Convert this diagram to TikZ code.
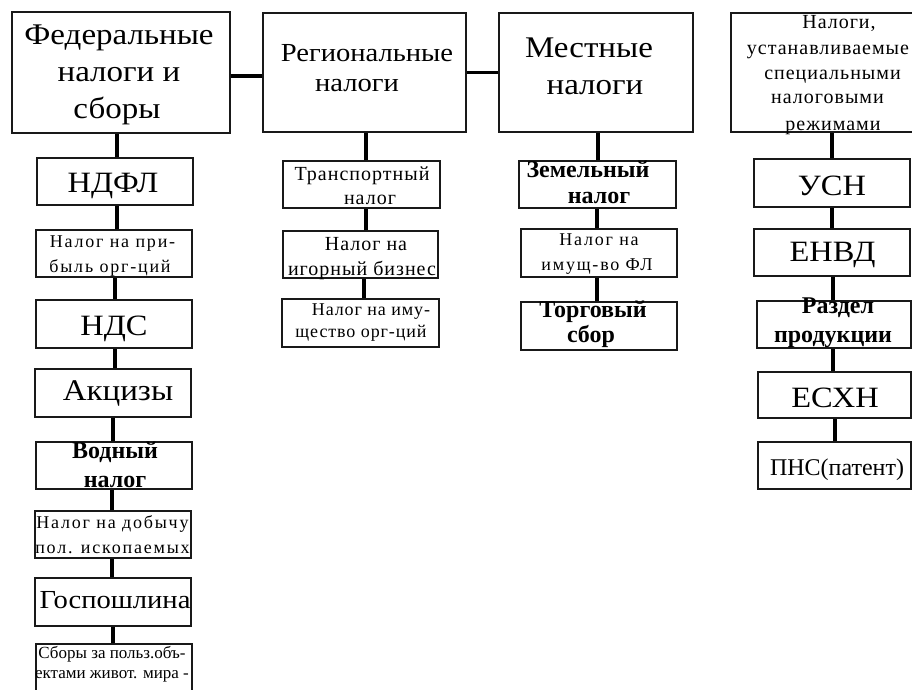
\documentclass[tikz,border=0pt]{standalone}
\usepackage{fontspec}
\setmainfont{Liberation Serif}
\newfontfamily\spacedfam[LetterSpace=10]{Liberation Serif}
\newfontfamily\spacedlight[LetterSpace=5]{Liberation Serif}
\newfontfamily\widefam[FakeStretch=1.1]{Liberation Serif}
\usetikzlibrary{fit}
\newcommand\fbg[1]{\widefam\fontsize{#1}{#1}\selectfont}
\newcommand\fsm[1]{\spacedfam\fontsize{#1}{#1}\selectfont}
\newcommand\fsl[1]{\spacedlight\fontsize{#1}{#1}\selectfont}
\newcommand\fbd{\bfseries\fontsize{24}{24}\selectfont}
\newcommand\fpl[1]{\fontsize{#1}{#1}\selectfont}
\begin{document}
\begin{tikzpicture}[x=1pt,y=-1pt,
  box/.style={draw=black!90, line width=1.2pt, inner sep=0pt, rectangle},
  link/.style={line width=3.6pt, draw=black},
  txt/.style={anchor=base, inner sep=0pt, text=black}]
\useasboundingbox (0,0) rectangle (912,690);
\clip (0,0) rectangle (912,690);
% ---------- boxes ----------
\node[box, fit={(12,12) (230,133)}] (fed) {};
\node[box, fit={(263,13) (466,132)}] (reg) {};
\node[box, fit={(499,13) (693,132)}] (mes) {};
\node[box, fit={(731,13) (934,132)}] (spec) {};
\node[box, fit={(37,158) (193,205)}] (ndfl) {};
\node[box, fit={(36,230) (192,277)}] (prib) {};
\node[box, fit={(36,300) (192,348)}] (nds) {};
\node[box, fit={(35,369) (191,417)}] (akc) {};
\node[box, fit={(36,442) (192,489)}] (vod) {};
\node[box, fit={(35,511) (191,558)}] (dob) {};
\node[box, fit={(35,578) (191,626)}] (gos) {};
\node[box, fit={(36,644) (192,720)}] (sbo) {};
\node[box, fit={(283,161) (440,208)}] (tra) {};
\node[box, fit={(283,231) (438,278)}] (igo) {};
\node[box, fit={(282,299) (439,347)}] (imu) {};
\node[box, fit={(519,161) (676,208)}] (zem) {};
\node[box, fit={(521,229) (677,277)}] (ifl) {};
\node[box, fit={(521,302) (677,350)}] (tor) {};
\node[box, fit={(754,159) (910,207)}] (usn) {};
\node[box, fit={(754,229) (910,276)}] (envd) {};
\node[box, fit={(757,301) (911,348)}] (raz) {};
\node[box, fit={(758,372) (911,418)}] (esx) {};
\node[box, fit={(758,442) (911,489)}] (pns) {};
% ---------- connectors ----------
\draw[link] ([yshift=-3.5pt]fed.east) -- ([yshift=-3.5pt]fed.east -| reg.west);
\draw[link] (reg.east) -- (reg.east -| mes.west);
\draw[link] ([xshift=2pt]ndfl.north) -- ([xshift=2pt]ndfl.north |- fed.south);
\draw[link] ([xshift=3pt]prib.north) -- ([xshift=3pt]prib.north |- ndfl.south);
\draw[link] ([xshift=1pt]nds.north) -- ([xshift=1pt]nds.north |- prib.south);
\draw[link] ([xshift=2pt]akc.north) -- ([xshift=2pt]akc.north |- nds.south);
\draw[link] ([xshift=-1pt]vod.north) -- ([xshift=-1pt]vod.north |- akc.south);
\draw[link] ([xshift=-1pt]dob.north) -- ([xshift=-1pt]dob.north |- vod.south);
\draw[link] ([xshift=-1pt]gos.north) -- ([xshift=-1pt]gos.north |- dob.south);
\draw[link] ([xshift=-1pt]sbo.north) -- ([xshift=-1pt]sbo.north |- gos.south);
\draw[link] ([xshift=4.5pt]tra.north) -- ([xshift=4.5pt]tra.north |- reg.south);
\draw[link] ([xshift=5.5pt]igo.north) -- ([xshift=5.5pt]igo.north |- tra.south);
\draw[link] ([xshift=3.5pt]imu.north) -- ([xshift=3.5pt]imu.north |- igo.south);
\draw[link] ([xshift=0.5pt]zem.north) -- ([xshift=0.5pt]zem.north |- mes.south);
\draw[link] ([xshift=-2pt]ifl.north) -- ([xshift=-2pt]ifl.north |- zem.south);
\draw[link] ([xshift=-2pt]tor.north) -- ([xshift=-2pt]tor.north |- ifl.south);
\draw[link] (usn.north) -- (usn.north |- spec.south);
\draw[link] (envd.north) -- (envd.north |- usn.south);
\draw[link] ([xshift=-1pt]raz.north) -- ([xshift=-1pt]raz.north |- envd.south);
\draw[link] ([xshift=-1.5pt]esx.north) -- ([xshift=-1.5pt]esx.north |- raz.south);
\draw[link] ([xshift=0.5pt]pns.north) -- ([xshift=0.5pt]pns.north |- esx.south);
% ---------- texts ----------
\node[txt] (fed1) at (119,45) {\fbg{30}Федеральные};
\node[txt] (fed2) at (119,82) {\fbg{30}налоги и};
\node[txt] (fed3) at (117,118) {\fbg{30}сборы};
\node[txt] (reg1) at (367,62) {\fbg{26}Региональные};
\node[txt] (reg2) at (357,92) {\fbg{26}налоги};
\node[txt] (mes1) at (589,58) {\fbg{30}Местные};
\node[txt] (mes2) at (595,95) {\fbg{30}налоги};
\node[txt] (spec1) at (839,29) {\fsl{20}Налоги,};
\node[txt] (spec2) at (828,55) {\fsl{20}устанавливаемые};
\node[txt] (spec3) at (832.5,80) {\fsl{20}специальными};
\node[txt] (spec4) at (827.5,103) {\fsl{20}налоговыми};
\node[txt] (spec5) at (833,130) {\fsl{20}режимами};
\node[txt] (ndfl1) at (113,192) {\fbg{29.5}НДФЛ};
\node[txt] (prib1) at (112.5,247) {\fsm{18}Налог на при-};
\node[txt] (prib2) at (110,272) {\fsm{18}быль орг-ций};
\node[txt] (nds1) at (114,335) {\fbg{29.5}НДС};
\node[txt] (akc1) at (118,400) {\fbg{30}Акцизы};
\node[txt] (vod1) at (115,458) {\fbd Водный};
\node[txt] (vod2) at (115,487) {\fbd налог};
\node[txt] (dob1) at (112.5,528) {\fsm{18}Налог на добычу};
\node[txt] (dob2) at (112.5,553) {\fsm{18}пол. ископаемых};
\node[txt] (gos1) at (115,608) {\fbg{26}Госпошлина};
\node[txt] (sbo1) at (112,658) {\fpl{17}Сборы за польз.объ-};
\node[txt] (sbo2) at (112,678) {\fpl{17}ектами живот. мира -};
\node[txt] (tra1) at (362,180) {\fsl{20}Транспортный};
\node[txt] (tra2) at (370,204) {\fsl{20}налог};
\node[txt] (igo1) at (366,250) {\fsl{20}Налог на};
\node[txt] (igo2) at (362,275) {\fsl{20}игорный бизнес};
\node[txt] (imu1) at (371,315) {\fsl{18}Налог на иму-};
\node[txt] (imu2) at (361,337) {\fsl{18}щество орг-ций};
\node[txt] (zem1) at (588,177) {\fbd Земельный};
\node[txt] (zem2) at (599,203) {\fbd налог};
\node[txt] (ifl1) at (599,245) {\fsm{18}Налог на};
\node[txt] (ifl2) at (597,270) {\fsm{18}имущ-во ФЛ};
\node[txt] (tor1) at (593,317) {\fbd Торговый};
\node[txt] (tor2) at (591,342) {\fbd сбор};
\node[txt] (usn1) at (832,195) {\fbg{29.5}УСН};
\node[txt] (envd1) at (832.5,261) {\fbg{29.5}ЕНВД};
\node[txt] (raz1) at (838,313) {\fbd Раздел};
\node[txt] (raz2) at (833,342) {\fbd продукции};
\node[txt] (esx1) at (835,407) {\fbg{29.5}ЕСХН};
\node[txt] (pns1) at (837,475) {\fpl{24}ПНС(патент)};
\end{tikzpicture}
\end{document}
